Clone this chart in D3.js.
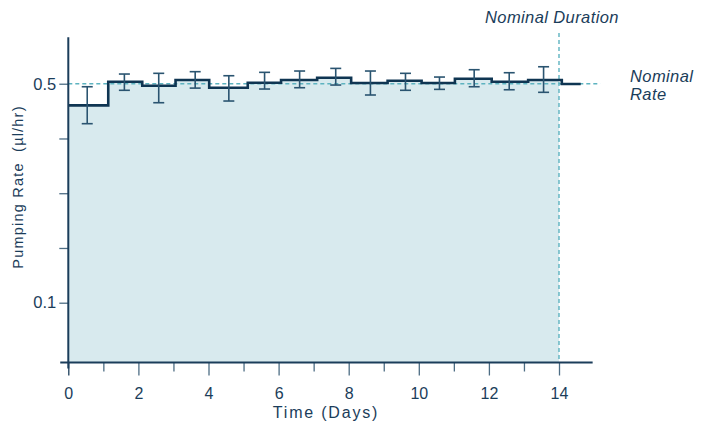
<!DOCTYPE html>
<html><head><meta charset="utf-8">
<script src="https://cdn.jsdelivr.net/npm/d3@7"></script>
<style>
html,body{margin:0;padding:0;background:#fff;}
svg{display:block;}
text{font-family:"Liberation Sans",Arial,Helvetica,sans-serif;fill:#1b3d5a;}
</style></head>
<body>
<svg id="chart" width="710" height="430"></svg>
<script>
// ---- data ----
const binEdges = [0, 1.14, 2.11, 3.06, 4.02, 5.12, 6.07, 7.10, 8.07, 9.11, 10.08, 11.03, 12.08, 13.12, 14.08, 14.62];
const rates = [0.4605, 0.5037, 0.4963, 0.5068, 0.4927, 0.5018, 0.5068, 0.511, 0.5013, 0.5055, 0.5013, 0.5091, 0.5037, 0.5068, 0.4995];
const errDays = [0.54, 1.60, 2.58, 3.62, 4.58, 5.60, 6.60, 7.63, 8.62, 9.62, 10.59, 11.58, 12.58, 13.56];
const errHigh = [0.4945, 0.5177, 0.519, 0.522, 0.5146, 0.5208, 0.5232, 0.528, 0.5232, 0.519, 0.5122, 0.5256, 0.5201, 0.531];
const errLow  = [0.427, 0.488, 0.4653, 0.492, 0.4684, 0.4903, 0.4927, 0.4976, 0.4794, 0.488, 0.4897, 0.4945, 0.489, 0.4843];
const xTicks = [0,1,2,3,4,5,6,7,8,9,10,11,12,13,14];
const yTicks = [0.1, 0.2, 0.3, 0.4, 0.5];
const yLabelled = [0.1, 0.5];
const nominalRate = 0.5;
const nominalDuration = 14;
const xTitle = "Time (Days)";
const yTitle = "Pumping Rate  (µl/hr)";

// ---- scales ----
const svg = d3.select("#chart");
const x = d3.scaleLinear().domain([0, 14]).range([68.3, 559]);
const y = d3.scaleLinear().domain([-0.0092, 0.5848]).range([362.5, 37.3]);
const navy = "#0f3552", axisCol = "#1b3d5a", dashCol = "#5db3c0", fillCol = "#d8eaee", errCol = "#2a5470";

// step data
const steps = [];
rates.forEach((r, i) => { steps.push({d: binEdges[i], v: r}); });
steps.push({d: binEdges[binEdges.length-1], v: rates[rates.length-1]});

// fill clipped to nominal duration
svg.append("clipPath").attr("id","clipDur").append("rect")
  .attr("x", x(0)).attr("y", 0).attr("width", x(nominalDuration)-x(0)).attr("height", 430);
const area = d3.area().curve(d3.curveStepAfter).x(d => x(d.d)).y0(y.range()[0]).y1(d => y(d.v));
svg.append("path").datum(steps).attr("d", area).attr("fill", fillCol).attr("clip-path","url(#clipDur)");

// nominal rate dashed line
svg.append("line").attr("x1", x(0)).attr("x2", x(15.18)).attr("y1", y(nominalRate)).attr("y2", y(nominalRate))
  .attr("stroke", dashCol).attr("stroke-width", 1.4).attr("stroke-dasharray", "4,3");
// nominal duration dashed line
svg.append("line").attr("x1", x(nominalDuration)).attr("x2", x(nominalDuration)).attr("y1", 33).attr("y2", y.range()[0])
  .attr("stroke", dashCol).attr("stroke-width", 1.4).attr("stroke-dasharray", "4,3");

// step line
const line = d3.line().curve(d3.curveStepAfter).x(d => x(d.d)).y(d => y(d.v));
svg.append("path").datum(steps).attr("d", line).attr("fill","none").attr("stroke", navy).attr("stroke-width", 2.6);

// error bars
const eg = svg.append("g").attr("stroke", errCol).attr("stroke-width", 1.6);
errDays.forEach((d, i) => {
  const cx = x(d);
  eg.append("line").attr("x1", cx).attr("x2", cx).attr("y1", y(errHigh[i])).attr("y2", y(errLow[i]));
  eg.append("line").attr("x1", cx-5.5).attr("x2", cx+5.5).attr("y1", y(errHigh[i])).attr("y2", y(errHigh[i]));
  eg.append("line").attr("x1", cx-5.5).attr("x2", cx+5.5).attr("y1", y(errLow[i])).attr("y2", y(errLow[i]));
});

// x axis
const xAxis = d3.axisBottom(x).tickValues(xTicks)
  .tickSize(0).tickFormat(d => d % 2 === 0 ? d : "");
const gx = svg.append("g").attr("transform", `translate(0,${y.range()[0]})`).call(xAxis);
gx.select(".domain").remove();
gx.selectAll(".tick line").remove();
gx.selectAll(".tick").append("line")
  .attr("y1", 0).attr("y2", d => d % 2 === 0 ? 13 : 9)
  .attr("stroke", d => d === 0 ? axisCol : "#4d6d84").attr("stroke-width", 1.3);
gx.selectAll(".tick text").attr("y", 25).attr("dy", "0.71em")
  .style("font-size", "16px").attr("fill", axisCol);
svg.append("line").attr("x1", x(-0.23)).attr("x2", x(14.96)).attr("y1", y.range()[0]).attr("y2", y.range()[0])
  .attr("stroke", axisCol).attr("stroke-width", 2);

// y axis
const yAxis = d3.axisLeft(y).tickValues(yTicks).tickSize(9)
  .tickFormat(d => yLabelled.includes(d) ? d3.format(".1f")(d) : "");
const gy = svg.append("g").attr("transform", `translate(${x(0)},0)`).call(yAxis);
gy.select(".domain").remove();
gy.selectAll(".tick line").attr("stroke", "#4d6d84").attr("stroke-width", 1.3);
gy.selectAll(".tick text").attr("x", -12).style("font-size", "16.5px").attr("fill", axisCol);
svg.append("line").attr("x1", x(0)).attr("x2", x(0)).attr("y1", y.range()[1]).attr("y2", y.range()[0]+6)
  .attr("stroke", axisCol).attr("stroke-width", 2);

// titles
svg.append("text").attr("x", 326).attr("y", 418).attr("text-anchor","middle")
  .style("font-size","16px").style("letter-spacing","1.8px").text(xTitle);
svg.append("text").attr("transform","translate(23,187) rotate(-90)").attr("text-anchor","middle")
  .style("white-space","pre").attr("xml:space","preserve")
  .style("font-size","14.5px").style("letter-spacing","1.2px").text(yTitle);

// annotations
const ann = {size: "16.5px", ls: "0.4px"};
svg.append("text").attr("x", 485).attr("y", 23).style("font-size",ann.size).style("letter-spacing",ann.ls).style("font-style","italic").text("Nominal Duration");
svg.append("text").attr("x", 630).attr("y", 81.5).style("font-size",ann.size).style("letter-spacing",ann.ls).style("font-style","italic").text("Nominal");
svg.append("text").attr("x", 630).attr("y", 100).style("font-size",ann.size).style("letter-spacing",ann.ls).style("font-style","italic").text("Rate");
</script>
</body></html>
